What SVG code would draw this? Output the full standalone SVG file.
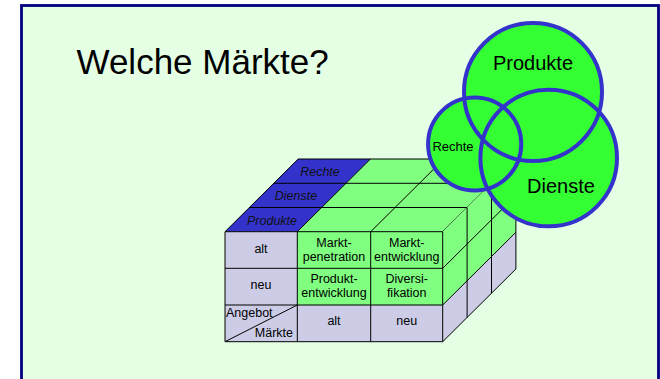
<svg xmlns="http://www.w3.org/2000/svg" width="660" height="379" viewBox="0 0 660 379">
<style>
.t{font-family:"Liberation Sans",Arial,sans-serif;fill:#000}
.c{font-size:12.5px;text-anchor:middle}
.i{font-size:12.5px;font-style:italic;text-anchor:middle;fill:#111}
.ln{stroke:#000;stroke-width:1;fill:none}
.lav{fill:#CCCCE6}
.grn{fill:#80FF80}
.blu{fill:#3333CC}
.cf{fill:#33FF33;stroke:none}
.cs{fill:none;stroke:#3333CC;stroke-width:4}
</style>
<rect x="21.5" y="5.5" width="637" height="400" fill="#E5FFE5" stroke="#000080" stroke-width="2.8"/>
<text class="t" x="76.5" y="73.5" font-size="35">Welche Märkte?</text>
<g id="cube">
 <g id="top">
  <polygon class="blu" points="225,231.7 297.3,231.7 370.5,159 298.2,159"/>
  <polygon class="grn" points="297.3,231.7 442.7,231.7 515.9,159 370.5,159"/>
  <path class="ln" d="M225,231.7 L298.2,159 L515.9,159 M249.4,207.5 L467.1,207.5 M273.8,183.3 L491.5,183.3 M297.3,231.7 L370.5,159 M370.7,231.7 L443.9,159 M442.7,231.7 L515.9,159"/>
  <text class="t i" x="272" y="224.5">Produkte</text>
  <text class="t i" x="296" y="200">Dienste</text>
  <text class="t i" x="320" y="176">Rechte</text>
 </g>
 <g id="right">
  <polygon class="grn" points="442.7,231.7 515.9,159 515.9,232.3 442.7,305"/>
  <polygon class="lav" points="442.7,305 515.9,232.3 515.9,269 442.7,341.7"/>
  <path class="ln" d="M515.9,159 L515.9,269 L442.7,341.7 M442.7,268.3 L515.9,195.6 M442.7,305 L515.9,232.3 M467.1,207.5 L467.1,317.5 M491.5,183.3 L491.5,293.3"/>
 </g>
 <g id="front">
  <rect class="lav" x="225" y="231.7" width="72.3" height="110"/>
  <rect class="lav" x="297.3" y="305" width="145.4" height="36.7"/>
  <rect class="grn" x="297.3" y="231.7" width="145.4" height="73.3"/>
  <path class="ln" d="M225,231.7 H442.7 V341.7 H225 Z M225,268.3 H442.7 M225,305 H442.7 M297.3,231.7 V341.7 M370.7,231.7 V341.7 M225,341.7 L297.3,305"/>
  <text class="t c" x="261" y="252.5">alt</text>
  <text class="t c" x="261" y="288.5">neu</text>
  <text class="t c" x="334" y="246.5">Markt-</text>
  <text class="t c" x="334" y="260.5">penetration</text>
  <text class="t c" x="406.7" y="246.5">Markt-</text>
  <text class="t c" x="406.7" y="260.5">entwicklung</text>
  <text class="t c" x="334" y="282.7">Produkt-</text>
  <text class="t c" x="334" y="296.7">entwicklung</text>
  <text class="t c" x="406.7" y="282.7">Diversi-</text>
  <text class="t c" x="406.7" y="296.7">fikation</text>
  <text class="t c" x="334" y="325">alt</text>
  <text class="t c" x="406.7" y="325">neu</text>
  <text class="t" x="226" y="316.7" font-size="12.5">Angebot</text>
  <text class="t" x="293" y="336.7" font-size="12.5" text-anchor="end">Märkte</text>
 </g>
</g>
<g id="venn">
 <circle class="cf" cx="533" cy="92" r="69"/>
 <circle class="cf" cx="474.7" cy="144" r="46.6"/>
 <circle class="cf" cx="548.7" cy="158" r="68.3"/>
 <circle class="cs" cx="533" cy="92" r="69"/>
 <circle class="cs" cx="474.7" cy="144" r="46.6"/>
 <circle class="cs" cx="548.7" cy="158" r="68.3"/>
 <text class="t" x="533" y="70" font-size="20" text-anchor="middle">Produkte</text>
 <text class="t" x="561" y="192.7" font-size="20" text-anchor="middle">Dienste</text>
 <text class="t" x="453" y="151" font-size="13" text-anchor="middle">Rechte</text>
</g>
</svg>
